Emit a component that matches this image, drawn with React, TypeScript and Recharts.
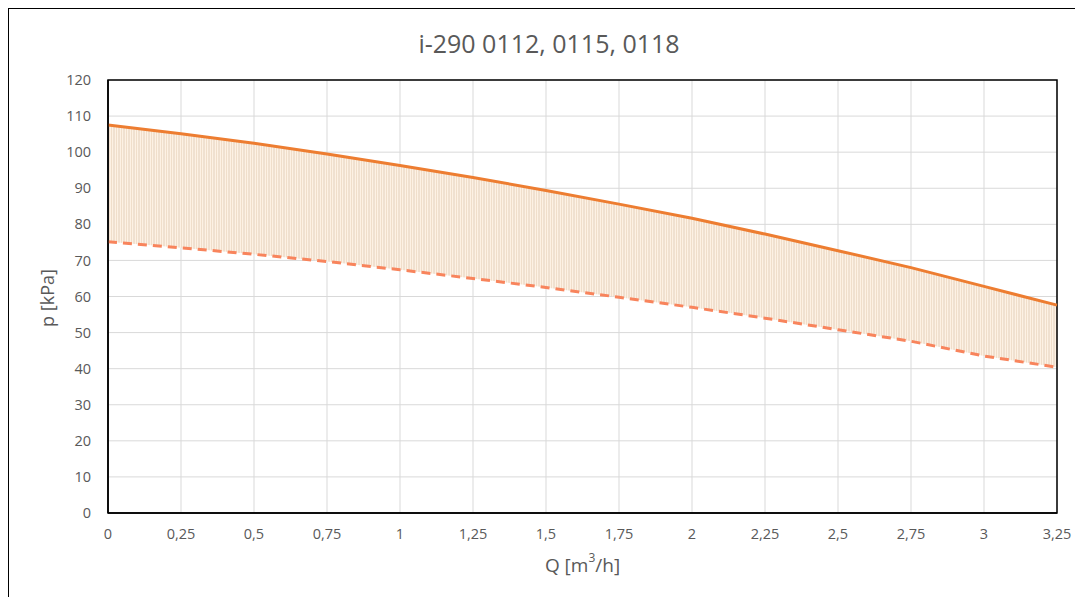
import {
  ComposedChart,
  Area,
  Line,
  XAxis,
  YAxis,
  CartesianGrid,
  ReferenceArea,
} from 'recharts';

const FLOW = [0, 0.25, 0.5, 0.75, 1, 1.25, 1.5, 1.75, 2, 2.25, 2.5, 2.75, 3, 3.25];
const MAX_PRESSURE = [107.5, 105.1, 102.5, 99.5, 96.3, 93, 89.4, 85.6, 81.7, 77.3, 72.7, 68, 62.8, 57.6];
const MIN_PRESSURE = [75.2, 73.5, 71.7, 69.7, 67.4, 65, 62.5, 59.8, 57, 54, 50.8, 47.6, 43.5, 40.4];
const Y_TICKS = [0, 10, 20, 30, 40, 50, 60, 70, 80, 90, 100, 110, 120];

const TITLE = 'i-290 0112, 0115, 0118';

const FONT = '"Open Sans", Calibri, sans-serif';
const TEXT_COLOR = '#595959';

const data = FLOW.map((q, i) => ({
  q,
  max: MAX_PRESSURE[i],
  min: MIN_PRESSURE[i],
  band: [MIN_PRESSURE[i], MAX_PRESSURE[i]],
}));

const fmt = (v: number) => String(v).replace('.', ',');

export default function App() {
  return (
    <div style={{ position: 'relative', width: 1067, height: 589, overflow: 'hidden', fontFamily: FONT }}>
      {/* outer chart frame, right/bottom edges run off the picture */}
      <div
        style={{
          position: 'absolute',
          left: 0,
          top: 0,
          width: 1067,
          height: 589,
          borderLeft: '1px solid #000',
          borderTop: '1px solid #000',
          boxSizing: 'border-box',
        }}
      />
      <div
        style={{
          position: 'absolute',
          top: 17,
          left: 241,
          width: 600,
          textAlign: 'center',
          fontSize: 25,
          lineHeight: '36px',
          color: TEXT_COLOR,
          whiteSpace: 'nowrap',
        }}
      >
        {TITLE}
      </div>
      <div
        style={{
          position: 'absolute',
          left: 39,
          top: 290,
          transform: 'translate(-50%, -50%) rotate(-90deg)',
          fontSize: 18,
          color: TEXT_COLOR,
          whiteSpace: 'nowrap',
        }}
      >
        p [kPa]
      </div>
      <div
        style={{
          position: 'absolute',
          left: 100,
          width: 949,
          top: 544,
          textAlign: 'center',
          fontSize: 19,
          color: TEXT_COLOR,
        }}
      >
        Q [m<sup style={{ fontSize: 12, verticalAlign: 'top', lineHeight: 1 }}>3</sup>/h]
      </div>
      <ComposedChart
        width={1067}
        height={581}
        data={data}
        margin={{ top: 72, right: 18, left: 0, bottom: 0 }}
        style={{ position: 'absolute', left: 0, top: 0 }}
      >
        <defs>
          <pattern id="hatch" width="5" height="10" patternUnits="userSpaceOnUse">
            <rect width="5" height="10" fill="#fdf1e4" />
            <line x1="1" y1="0" x2="1" y2="10" stroke="#d8c2aa" strokeWidth="1" strokeOpacity="0.7" />
            <line x1="3.5" y1="0" x2="3.5" y2="10" stroke="#ecd6c0" strokeWidth="1" strokeOpacity="0.7" />
          </pattern>
        </defs>
        <CartesianGrid stroke="#d9d9d9" strokeWidth={1} />
        <XAxis
          dataKey="q"
          type="number"
          domain={[0, 3.25]}
          ticks={FLOW}
          interval={0}
          tickFormatter={fmt}
          axisLine={{ stroke: '#000', strokeWidth: 1.5 }}
          tickLine={false}
          tickSize={0}
          tickMargin={16}
          height={76}
          tick={{ fill: TEXT_COLOR, fontSize: 14.5, fontFamily: FONT }}
        />
        <YAxis
          type="number"
          domain={[0, 120]}
          ticks={Y_TICKS}
          interval={0}
          axisLine={{ stroke: '#000', strokeWidth: 1.5 }}
          tickLine={false}
          tickSize={0}
          tickMargin={17}
          width={100}
          tick={{ fill: TEXT_COLOR, fontSize: 14.5, fontFamily: FONT }}
        />
        <Area
          dataKey="band"
          type="linear"
          stroke="none"
          fill="url(#hatch)"
          fillOpacity={1}
          isAnimationActive={false}
        />
        <Line
          dataKey="max"
          type="linear"
          stroke="#ed7d31"
          strokeWidth={3}
          dot={false}
          isAnimationActive={false}
        />
        <Line
          dataKey="min"
          type="linear"
          stroke="#f8845c"
          strokeWidth={3}
          strokeDasharray="9 6"
          dot={false}
          isAnimationActive={false}
        />
        <ReferenceArea x1={0} x2={3.25} y1={0} y2={120} fill="none" stroke="#000" strokeWidth={1.5} ifOverflow="visible" />
      </ComposedChart>
    </div>
  );
}
